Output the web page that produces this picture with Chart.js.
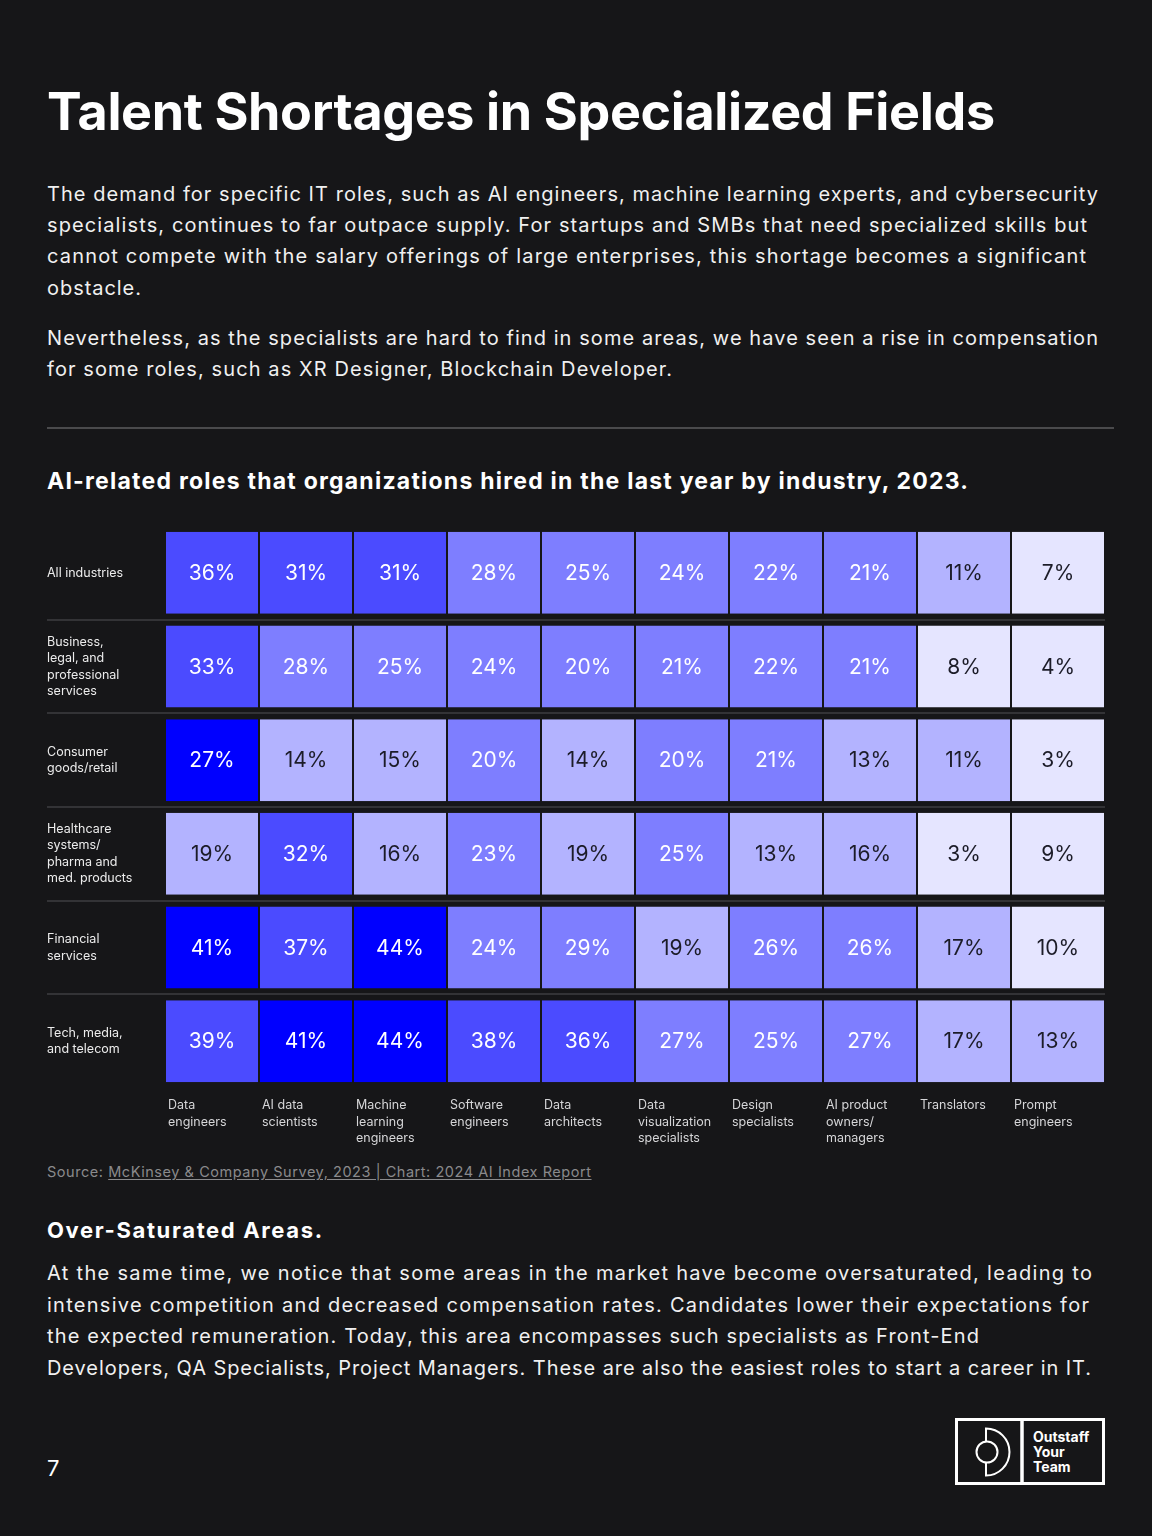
<!DOCTYPE html>
<html>
<head>
<meta charset="utf-8">
<script src="https://cdn.jsdelivr.net/npm/chart.js@4.4.1/dist/chart.umd.min.js"></script>
<style>
  html, body { margin: 0; padding: 0; background: #161618; }
  body { width: 1152px; height: 1536px; position: relative; overflow: hidden;
         font-family: Inter, "Noto Sans", sans-serif; color: #f2f2f2; }
  .t { position: absolute; left: 47px; white-space: nowrap; }
  .title { font-size: 52px; font-weight: 700; line-height: 60px; color: #ffffff; }
  .p { font-size: 20px; font-weight: 400; line-height: 30px; color: #f0f0f0; }
  .sub { font-size: 23px; font-weight: 700; line-height: 30px; color: #ffffff; }
  .h2 { font-size: 22px; font-weight: 700; line-height: 30px; color: #ffffff; }
  .src { font-size: 14.5px; line-height: 20px; color: #8a8a8c; }
  .src span { text-decoration: underline; text-underline-offset: 2px; }
  .rule { position: absolute; left: 47px; top: 427px; width: 1067px; height: 2px; background: #4a4a4c; }
  #c { position: absolute; left: 47px; top: 520px; }
  .pg { position: absolute; left: 47px; top: 1453px; font-size: 22px; line-height: 30px; color: #fff; }
  .logo { position: absolute; left: 953px; top: 1416px; }
</style>
</head>
<body>
<div class="t title" style="top:82px" data-w="948">Talent Shortages in Specialized Fields</div>

<div class="t p" style="top:179px" data-w="1051">The demand for specific IT roles, such as AI engineers, machine learning experts, and cybersecurity</div>
<div class="t p" style="top:210px" data-w="1040">specialists, continues to far outpace supply. For startups and SMBs that need specialized skills but</div>
<div class="t p" style="top:241px" data-w="1039">cannot compete with the salary offerings of large enterprises, this shortage becomes a significant</div>
<div class="t p" style="top:273px" data-w="94">obstacle.</div>

<div class="t p" style="top:323px" data-w="1051">Nevertheless, as the specialists are hard to find in some areas, we have seen a rise in compensation</div>
<div class="t p" style="top:354px" data-w="625">for some roles, such as XR Designer, Blockchain Developer.</div>

<div class="rule"></div>

<div class="t sub" style="top:466px" data-w="921">AI-related roles that organizations hired in the last year by industry, 2023.</div>

<canvas id="c" width="1058" height="628"></canvas>

<div class="t src" style="top:1162px" data-w="544">Source: <span>McKinsey &amp; Company Survey, 2023 | Chart: 2024 AI Index Report</span></div>

<div class="t h2" style="top:1215px" data-w="275">Over-Saturated Areas.</div>
<div class="t p" style="top:1258px" data-w="1045">At the same time, we notice that some areas in the market have become oversaturated, leading to</div>
<div class="t p" style="top:1290px" data-w="1042">intensive competition and decreased compensation rates. Candidates lower their expectations for</div>
<div class="t p" style="top:1321px" data-w="932">the expected remuneration. Today, this area encompasses such specialists as Front-End</div>
<div class="t p" style="top:1353px" data-w="1044">Developers, QA Specialists, Project Managers. These are also the easiest roles to start a career in IT.</div>

<div class="pg">7</div>

<svg class="logo" width="154" height="72" viewBox="0 0 154 72">
  <rect x="3.5" y="3.5" width="147" height="64" fill="none" stroke="#ffffff" stroke-width="3"/>
  <line x1="69" y1="3" x2="69" y2="68" stroke="#ffffff" stroke-width="3.5"/>
  <path d="M33 12.5 L33 59.5 A23.5 23.5 0 0 0 33 12.5 Z" fill="none" stroke="#ffffff" stroke-width="2"/>
  <circle cx="34" cy="36" r="10.5" fill="#161618" stroke="#ffffff" stroke-width="2"/>
  <text x="80" y="26" font-family="Inter" font-weight="700" font-size="14" fill="#ffffff">Outstaff</text>
  <text x="80" y="41" font-family="Inter" font-weight="700" font-size="14" fill="#ffffff">Your</text>
  <text x="80" y="56" font-family="Inter" font-weight="700" font-size="14" fill="#ffffff">Team</text>
</svg>

<script>
// ---------- DATA ----------
const industries = [
  ['All industries'],
  ['Business,', 'legal, and', 'professional', 'services'],
  ['Consumer', 'goods/retail'],
  ['Healthcare', 'systems/', 'pharma and', 'med. products'],
  ['Financial', 'services'],
  ['Tech, media,', 'and telecom']
];
const roles = [
  ['Data', 'engineers'],
  ['AI data', 'scientists'],
  ['Machine', 'learning', 'engineers'],
  ['Software', 'engineers'],
  ['Data', 'architects'],
  ['Data', 'visualization', 'specialists'],
  ['Design', 'specialists'],
  ['AI product', 'owners/', 'managers'],
  ['Translators'],
  ['Prompt', 'engineers']
];
// percent of organizations hiring each role (columns follow `roles`)
const allIndustries = [36, 31, 31, 28, 25, 24, 22, 21, 11, 7];
const businessLegal = [33, 28, 25, 24, 20, 21, 22, 21, 8, 4];
const consumerGoods = [27, 14, 15, 20, 14, 20, 21, 13, 11, 3];
const healthcare    = [19, 32, 16, 23, 19, 25, 13, 16, 3, 9];
const financial     = [41, 37, 44, 24, 29, 19, 26, 26, 17, 10];
const techMedia     = [39, 41, 44, 38, 36, 27, 25, 27, 17, 13];
// shade bin of each cell (0 = lightest ... 4 = darkest)
const allIndustriesBin = [3, 3, 3, 2, 2, 2, 2, 2, 1, 0];
const businessLegalBin = [3, 2, 2, 2, 2, 2, 2, 2, 0, 0];
const consumerGoodsBin = [4, 1, 1, 2, 1, 2, 2, 1, 1, 0];
const healthcareBin    = [1, 3, 1, 2, 1, 2, 1, 1, 0, 0];
const financialBin     = [4, 3, 4, 2, 2, 1, 2, 2, 1, 0];
const techMediaBin     = [3, 4, 4, 3, 3, 2, 2, 2, 1, 1];

const heatValues = [allIndustries, businessLegal, consumerGoods, healthcare, financial, techMedia];
const heatBins = [allIndustriesBin, businessLegalBin, consumerGoodsBin, healthcareBin, financialBin, techMediaBin];

// ---------- STYLE ----------
const BG = '#161618';
const binColors = ['#e5e5ff', '#b3b3ff', '#7e7eff', '#4b4bff', '#0000ff'];

// fit text line widths
function fitLines() {
  document.querySelectorAll('[data-w]').forEach(el => {
    el.style.letterSpacing = '0px';
    const target = +el.dataset.w;
    const n = el.textContent.length;
    const w = el.getBoundingClientRect().width;
    el.style.letterSpacing = ((target - w) / Math.max(1, n - 1)) + 'px';
  });
}
fitLines();
if (document.fonts && document.fonts.ready) document.fonts.ready.then(fitLines);

const cellLabels = {
  id: 'cellLabels',
  afterDatasetsDraw(chart) {
    const ctx = chart.ctx;
    ctx.save();
    ctx.font = '400 21px Inter, "Noto Sans", sans-serif';
    ctx.textAlign = 'center';
    ctx.textBaseline = 'middle';
    chart.data.datasets.forEach((ds, j) => {
      chart.getDatasetMeta(j).data.forEach((el, i) => {
        ctx.fillStyle = heatBins[i][j] >= 2 ? '#ffffff' : '#1c1c28';
        ctx.fillText(heatValues[i][j] + '%', (el.x + el.base) / 2, el.y + 1);
      });
    });
    ctx.restore();
  }
};

new Chart(document.getElementById('c'), {
  type: 'bar',
  data: {
    labels: industries,
    datasets: roles.map((role, j) => ({
      label: role.join(' '),
      data: industries.map(() => 1),
      backgroundColor: ctx => binColors[heatBins[ctx.dataIndex][j]],
      borderColor: BG,
      borderWidth: { left: 1, right: 1, top: 0, bottom: 0 },
      borderSkipped: false,
      categoryPercentage: 1,
      barPercentage: 0.876
    }))
  },
  options: {
    indexAxis: 'y',
    responsive: false,
    animation: false,
    devicePixelRatio: 1,
    layout: { padding: { top: 6, right: 0, bottom: 0, left: 0 } },
    plugins: { legend: { display: false }, tooltip: { enabled: false } },
    scales: {
      x: {
        type: 'linear', stacked: true, min: 0, max: roles.length, position: 'bottom',
        afterBuildTicks: s => { s.ticks = roles.map((r, i) => ({ value: i })); },
        afterFit: s => { s.height = 60; },
        grid: { display: false, drawTicks: false },
        border: { display: false },
        ticks: {
          autoSkip: false, maxRotation: 0, minRotation: 0, align: 'start',
          labelOffset: 3, padding: 9, color: '#d6d6d8',
          font: { family: 'Inter', size: 12.5, lineHeight: 1.32 },
          callback: v => roles[v]
        }
      },
      y: {
        type: 'category', stacked: true,
        afterFit: s => { s.width = 118; s.paddingTop = 0; s.paddingBottom = 0; },
        grid: {
          offset: true, drawTicks: true, tickLength: 118, lineWidth: 2,
          color: ctx => (ctx.type === 'tick' && ctx.index > 0) ? '#333336' : 'rgba(0,0,0,0)'
        },
        border: { display: false },
        ticks: {
          crossAlign: 'far', color: '#ececec', autoSkip: false,
          font: { family: 'Inter', size: 12.5, lineHeight: 1.32 }
        }
      }
    }
  },
  plugins: [cellLabels]
});
</script>
</body>
</html>
